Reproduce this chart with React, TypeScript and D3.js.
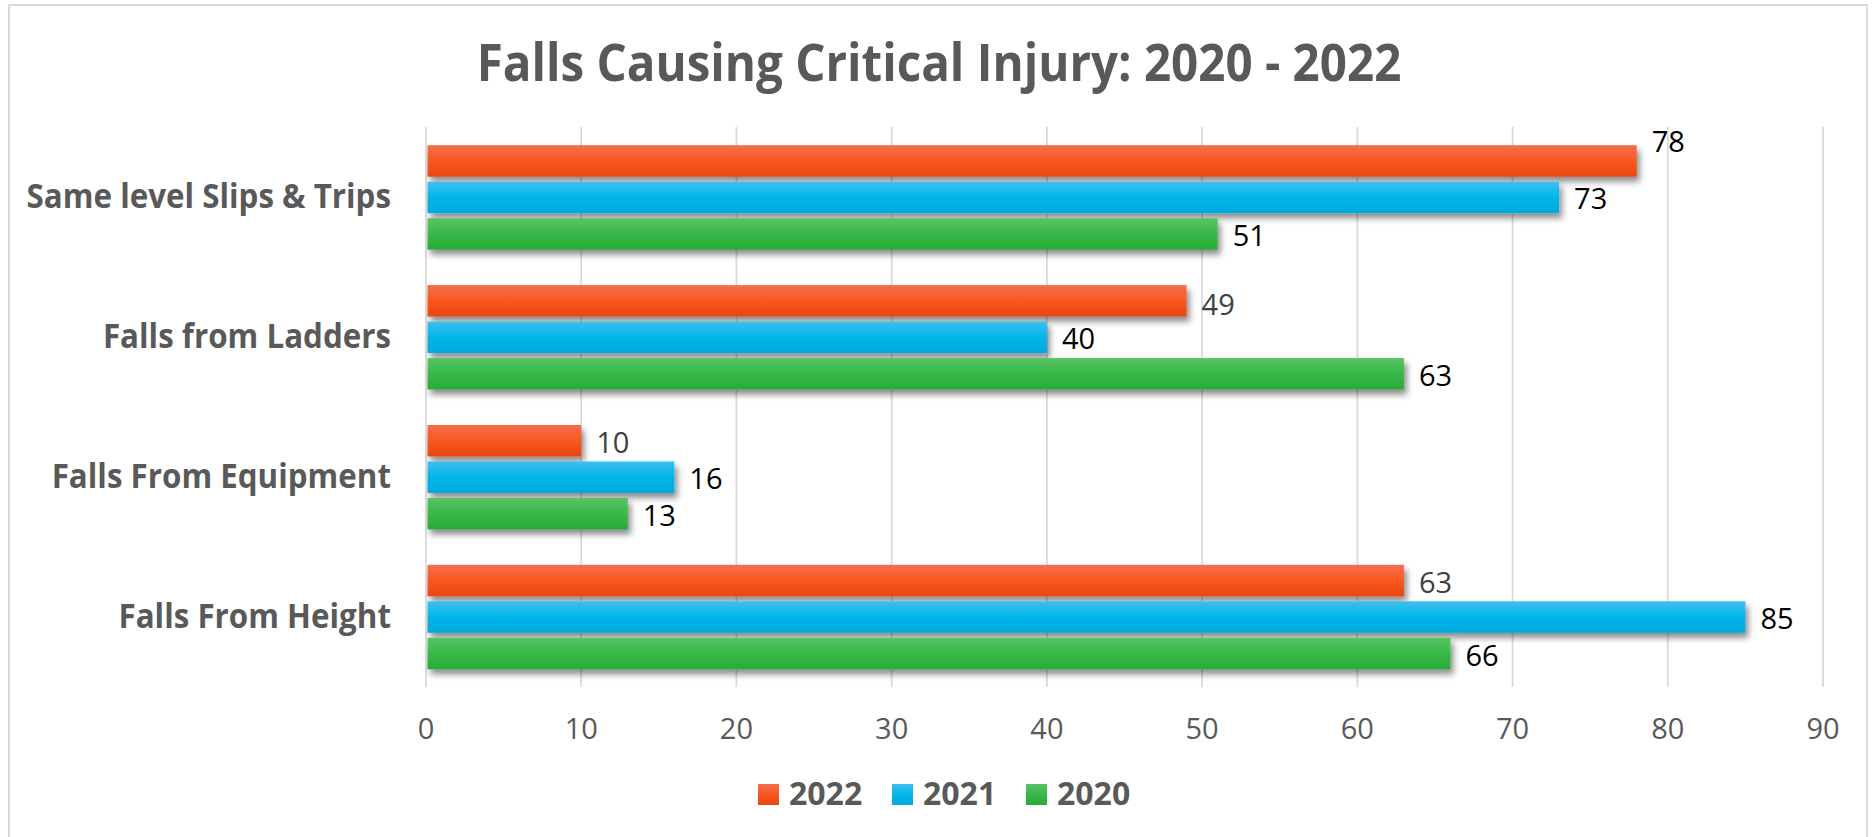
import React, { useLayoutEffect, useRef } from "react";
import * as d3 from "d3";

const categories = [
  "Same level Slips & Trips",
  "Falls from Ladders",
  "Falls From Equipment",
  "Falls From Height",
];
const seriesNames = ["2022", "2021", "2020"];
const values2022 = [78, 49, 10, 63];
const values2021 = [73, 40, 16, 85];
const values2020 = [51, 63, 13, 66];
const xTicks = [0, 10, 20, 30, 40, 50, 60, 70, 80, 90];
const title = "Falls Causing Critical Injury: 2020 - 2022";

const seriesValues: Record<string, number[]> = {
  "2022": values2022,
  "2021": values2021,
  "2020": values2020,
};

const gradients: Record<string, [string, string, string]> = {
  "2022": ["#F3704F", "#FA5720", "#E8470F"],
  "2021": ["#3CC0EE", "#03B5EA", "#00A9DC"],
  "2020": ["#59C364", "#39B849", "#27AB38"],
};

const W = 1873;
const H = 837;
const FONT = "'Open Sans', 'DejaVu Sans', sans-serif";

export default function App() {
  const ref = useRef<SVGSVGElement>(null);

  useLayoutEffect(() => {
    const svg = ref.current;
    if (!svg) return;
    svg.querySelectorAll<SVGTextElement>("text[data-fit]").forEach((t) => {
      const k = parseFloat(t.getAttribute("data-fit") || "1");
      t.removeAttribute("textLength");
      const w = t.getComputedTextLength();
      t.setAttribute("textLength", String(w * k));
      t.setAttribute("lengthAdjust", "spacingAndGlyphs");
    });
  }, []);

  const x = d3.scaleLinear().domain([0, 90]).range([426, 1823]);
  const y0 = d3.scaleBand<string>().domain(categories).range([127.5, 687]).padding(0);
  const y1 = d3
    .scaleBand<string>()
    .domain(seriesNames)
    .range([0, y0.bandwidth()])
    .paddingInner(0.137)
    .paddingOuter(0.485);

  const labelColor = (s: string, v: number) =>
    s === "2022" && v !== 78 ? "#404040" : "#000000";
  const labelDy = (s: string, i: number) => {
    if (s === "2022" && i === 0) return -19;
    if (s === "2022" && i === 1) return 4;
    return 1.5;
  };

  return (
    <div style={{ position: "absolute", left: 0, top: 0 }}>
      <svg ref={ref} width={W} height={H} style={{ display: "block", background: "#fff" }}>
        <defs>
          {seriesNames.map((s) => (
            <linearGradient key={s} id={`g${s}`} x1="0" y1="0" x2="0" y2="1">
              <stop offset="0%" stopColor={gradients[s][0]} />
              <stop offset="50%" stopColor={gradients[s][1]} />
              <stop offset="100%" stopColor={gradients[s][2]} />
            </linearGradient>
          ))}
          <filter id="shadow" x="-5%" y="-30%" width="115%" height="180%">
            <feDropShadow dx="3" dy="5" stdDeviation="3" floodColor="#000" floodOpacity="0.45" />
          </filter>
        </defs>
        <rect x={0} y={0} width={W} height={H} fill="#fff" />
        <rect x={9} y={5} width={1858} height={900} fill="#fff" stroke="#d9d9d9" strokeWidth={2} />

        <text
          x={939}
          y={81}
          textAnchor="middle"
          fontFamily={FONT}
          fontWeight={700}
          fontSize={52}
          fill="#595959"
          data-fit="0.914"
        >
          {title}
        </text>

        {xTicks.map((t) => (
          <line
            key={`g${t}`}
            x1={x(t)}
            x2={x(t)}
            y1={127}
            y2={687}
            stroke="#d9d9d9"
            strokeWidth={1.75}
          />
        ))}
        {xTicks.map((t) => (
          <text
            key={`t${t}`}
            x={x(t)}
            y={738.5}
            textAnchor="middle"
            fontFamily={FONT}
            fontSize={29}
            fill="#595959"
          >
            {t}
          </text>
        ))}

        {categories.map((c, i) => {
          const c0 = y0(c)!;
          return (
            <g key={c}>
              <text
                x={391}
                y={c0 + y0.bandwidth() / 2 + 11}
                textAnchor="end"
                fontFamily={FONT}
                fontWeight={700}
                fontSize={34}
                fill="#595959"
                data-fit="0.921"
              >
                {c}
              </text>
              {seriesNames.map((s) => {
                const v = seriesValues[s][i];
                const by = c0 + y1(s)!;
                const bh = y1.bandwidth();
                return (
                  <g key={s}>
                    <rect
                      x={x(0) + 1.5}
                      y={by}
                      width={x(v) - x(0) - 1.5}
                      height={bh}
                      fill={`url(#g${s})`}
                      filter="url(#shadow)"
                    />
                    <text
                      x={x(v) + 15}
                      y={by + bh / 2 + 10.5 + labelDy(s, i)}
                      fontFamily={FONT}
                      fontSize={29}
                      fill={labelColor(s, v)}
                    >
                      {v}
                    </text>
                  </g>
                );
              })}
            </g>
          );
        })}

        {seriesNames.map((s, i) => {
          const lx = 758 + i * 134;
          return (
            <g key={`l${s}`}>
              <rect x={lx} y={784} width={21} height={21} fill={`url(#g${s})`} />
              <text
                x={lx + 31}
                y={805}
                fontFamily={FONT}
                fontWeight={700}
                fontSize={32}
                fill="#595959"
              >
                {s}
              </text>
            </g>
          );
        })}
      </svg>
    </div>
  );
}
